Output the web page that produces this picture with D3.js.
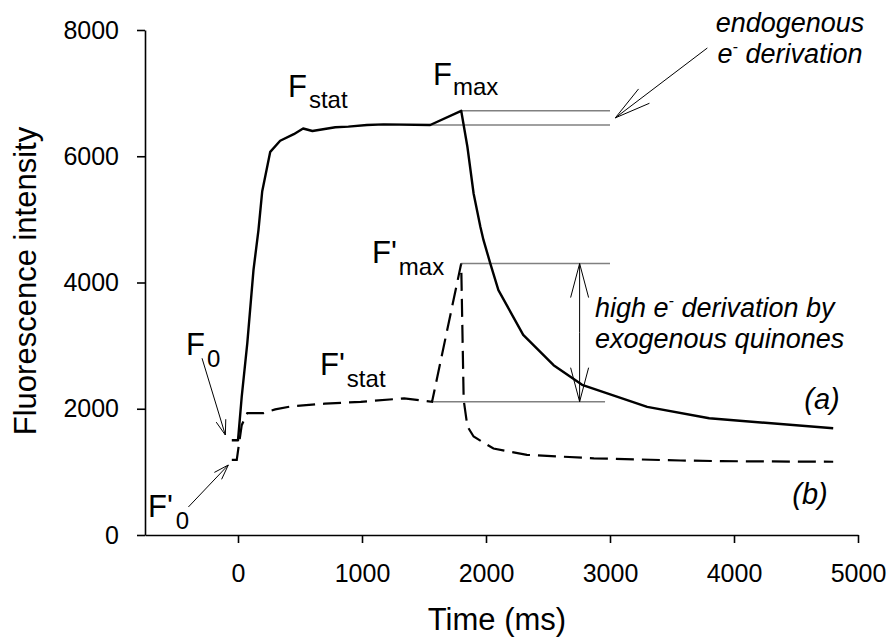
<!DOCTYPE html>
<html>
<head>
<meta charset="utf-8">
<script src="https://cdn.jsdelivr.net/npm/d3@7"></script>
<style>
  body { margin: 0; background: #fff; }
  text { font-family: "Liberation Sans", Arial, sans-serif; fill: #000; }
</style>
</head>
<body>
<script>
// Curve (a): solid, no quinones
const timeA = [-50, 0, 30, 75, 125, 165, 195, 260, 340, 450, 525, 600, 785, 890, 1040, 1175, 1550,
  1800, 1850, 1900, 1955, 1980, 2035, 2100, 2300, 2545, 2775, 3300, 3800, 4800];
const fluoA = [1500, 1500, 2190, 3040, 4200, 4830, 5440, 6070, 6245, 6350, 6440, 6400, 6460, 6470, 6495, 6505, 6495,
  6720, 6150, 5410, 4880, 4670, 4300, 3880, 3170, 2690, 2380, 2030, 1850, 1690];
// Curve (b): dashed, with exogenous quinones
const timeB = [-50, -10, 5, 30, 75, 205, 300, 435, 700, 990, 1340, 1565, 1800, 1820, 1850, 1900, 2060, 2330, 2870, 3570, 3900, 4800];
const fluoB = [1190, 1190, 1400, 1740, 1930, 1930, 1990, 2040, 2080, 2110, 2165, 2110, 4300, 2140, 1720, 1560, 1370, 1270, 1215, 1180, 1170, 1160];

const xTicks = [0, 1000, 2000, 3000, 4000, 5000];
const yTicks = [0, 2000, 4000, 6000, 8000];

// Reference levels
const F_MAX = 6720, F_STAT = 6495, F1_MAX = 4300, F1_STAT = 2112;

const W = 890, H = 640;
const svg = d3.select("body").append("svg").attr("width", W).attr("height", H);

const x = d3.scaleLinear().domain([-750, 5000]).range([145, 858]);
const y = d3.scaleLinear().domain([0, 8000]).range([535, 30]);

// Axes
const xAxis = svg.append("g").attr("transform", "translate(0,535)")
  .call(d3.axisBottom(x).tickValues(xTicks).tickSize(8).tickSizeOuter(0).tickPadding(21).tickFormat(d3.format("d")));
const yAxis = svg.append("g").attr("transform", "translate(145,0)")
  .call(d3.axisLeft(y).tickValues(yTicks).tickSize(8).tickSizeOuter(0).tickPadding(18).tickFormat(d3.format("d")));
[xAxis, yAxis].forEach(g => {
  g.selectAll("path, line").attr("stroke", "#000").attr("stroke-width", 1.6);
  g.selectAll("text").attr("font-size", 25).attr("font-family", "Liberation Sans, Arial, sans-serif").attr("fill", "#000");
});

svg.append("text").attr("x", 497).attr("y", 630).attr("text-anchor", "middle")
  .attr("font-size", 31).text("Time (ms)");
svg.append("text").attr("transform", "translate(36,281) rotate(-90)").attr("text-anchor", "middle")
  .attr("font-size", 31).text("Fluorescence intensity");

// Reference lines (grey)
const refLines = [
  [1800, 3000, F_MAX], [1550, 3000, F_STAT], [1800, 3000, F1_MAX], [1565, 2960, F1_STAT]
];
svg.selectAll(".ref").data(refLines).enter().append("line")
  .attr("x1", d => x(d[0])).attr("x2", d => x(d[1]))
  .attr("y1", d => y(d[2])).attr("y2", d => y(d[2]))
  .attr("stroke", "#808080").attr("stroke-width", 1.4);

// Curves
const line = d3.line().x(d => x(d[0])).y(d => y(d[1]));
svg.append("path").datum(d3.zip(timeA, fluoA)).attr("d", line)
  .attr("fill", "none").attr("stroke", "#000").attr("stroke-width", 2.4).attr("stroke-linejoin", "round");
svg.append("path").datum(d3.zip(timeB, fluoB)).attr("d", line)
  .attr("fill", "none").attr("stroke", "#000").attr("stroke-width", 2.2)
  .attr("stroke-dasharray", "18,8");

// Open "V" arrow from (x0,y0) to tip (x1,y1), in pixels
function arrow(x0, y0, x1, y1, len, half) {
  const a = Math.atan2(y1 - y0, x1 - x0);
  const bx = x1 - len * Math.cos(a), by = y1 - len * Math.sin(a);
  const px = -Math.sin(a) * half, py = Math.cos(a) * half;
  const g = svg.append("g").attr("stroke", "#000").attr("stroke-width", 1).attr("fill", "none");
  g.append("line").attr("x1", x0).attr("y1", y0).attr("x2", x1).attr("y2", y1);
  g.append("path").attr("d", `M${bx + px},${by + py}L${x1},${y1}L${bx - px},${by - py}`);
}

arrow(x(-290), y(2800), x(-102), y(1584), 15, 5);      // F0
arrow(x(-400), y(444), x(-78), y(1109), 15, 5);        // F'0
arrow(x(3785), y(7715), x(3043), y(6608), 36, 9);      // endogenous
// double arrow between F'stat and F'max
arrow(x(2755), y((F1_MAX + F1_STAT) / 2), x(2755), y(F1_MAX), 34, 9);
arrow(x(2755), y((F1_MAX + F1_STAT) / 2), x(2755), y(F1_STAT), 34, 9);

// Labels F with subscripts
function fLabel(xp, yp, main, sub, subDx, subDy) {
  const t = svg.append("text").attr("x", xp).attr("y", yp).attr("font-size", 31);
  t.append("tspan").text(main);
  t.append("tspan").attr("font-size", 24).attr("dx", subDx).attr("dy", subDy).text(sub);
}
fLabel(288, 97, "F", "stat", 2, 11);
fLabel(433, 85, "F", "max", 1, 10);
fLabel(372, 263, "F'", "max", 2, 12);
fLabel(320, 375, "F'", "stat", 2, 12);
fLabel(186, 355, "F", "0", 2, 12);
fLabel(148, 517, "F'", "0", 3, 12);

// Italic annotations
function eLine(xp, yp, anchor, before, after) {
  const t = svg.append("text").attr("x", xp).attr("y", yp).attr("text-anchor", anchor)
    .attr("font-size", 27).attr("font-style", "italic");
  t.append("tspan").text(before + "e");
  t.append("tspan").attr("font-size", 16).attr("dy", -11).text("-");
  t.append("tspan").attr("dy", 11).text(after);
}
svg.append("text").attr("x", 790).attr("y", 32).attr("text-anchor", "middle")
  .attr("font-size", 27).attr("font-style", "italic").text("endogenous");
eLine(790, 63, "middle", "", " derivation");
eLine(595, 317, "start", "high ", " derivation by");
svg.append("text").attr("x", 595).attr("y", 348)
  .attr("font-size", 27).attr("font-style", "italic").text("exogenous quinones");

svg.append("text").attr("x", 822).attr("y", 409).attr("text-anchor", "middle")
  .attr("font-size", 29).attr("font-style", "italic").text("(a)");
svg.append("text").attr("x", 810).attr("y", 504).attr("text-anchor", "middle")
  .attr("font-size", 29).attr("font-style", "italic").text("(b)");
</script>
</body>
</html>
